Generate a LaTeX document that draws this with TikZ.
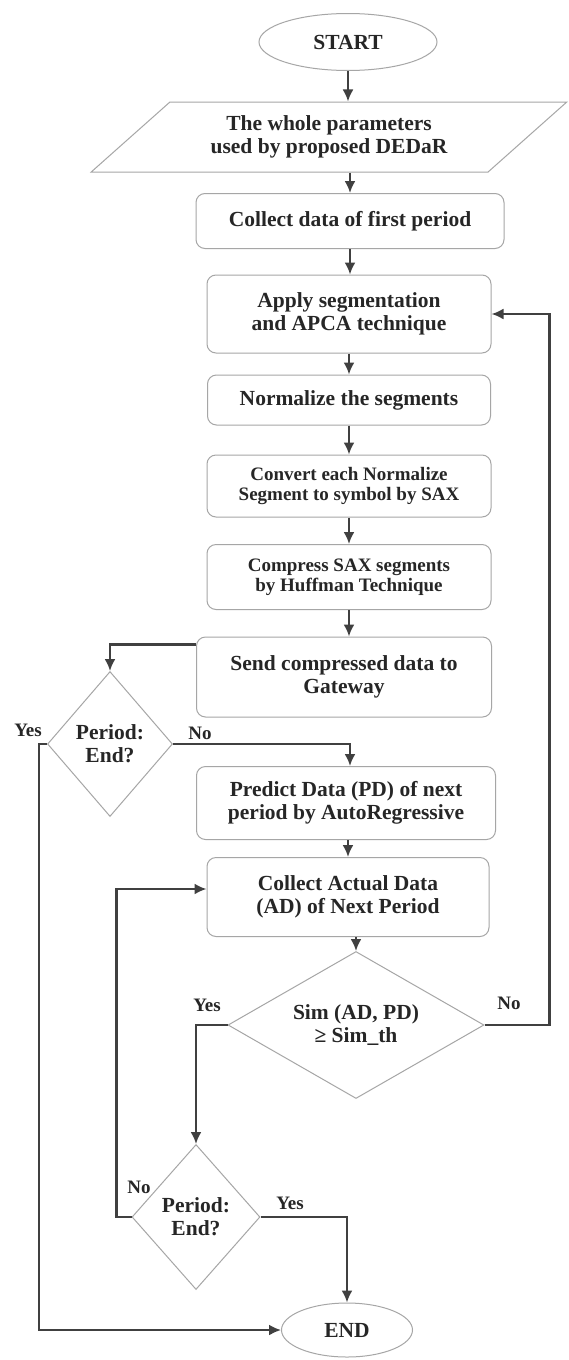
\documentclass[tikz,border=0pt]{standalone}
\usepackage{fontspec}
\setmainfont{Liberation Serif}
\usetikzlibrary{shapes.geometric,arrows.meta}
\tikzset{
  txt/.style={font=\fontsize{21.5}{23}\selectfont\bfseries, text=black!85, align=center},
  box/.style={txt, draw=black!35, line width=1pt, rounded corners=9pt, inner sep=0pt},
  smallbox/.style={box, font=\fontsize{19}{20}\selectfont\bfseries},
  term/.style={txt, draw=black!35, line width=1pt, ellipse, inner sep=0pt},
  decide/.style={txt, draw=black!35, line width=1pt, diamond, inner sep=0pt},
  flow/.style={draw=black!75, line width=2.2pt, -{Latex[length=12pt,width=11pt]}},
  lbl/.style={txt, font=\fontsize{19}{20}\selectfont\bfseries}
}
\begin{document}
\begin{tikzpicture}[x=1pt, y=-1pt]
    \useasboundingbox[fill=white] (0,0) rectangle (568,1360);
    % Main column
    \node[term, minimum width=178pt, minimum height=57pt] (start) at (348,42) {START};
    \node[txt, draw=black!35, line width=1pt, trapezium, trapezium left angle=36, trapezium right angle=144,
          trapezium stretches=true, minimum width=476pt, minimum height=70pt, inner sep=0pt] (params) at (329,137)
          {The whole parameters\\used by proposed DEDaR};
    \node[box, minimum width=308pt, minimum height=55pt] (collect) at (350,221) {Collect data of first period};
    \node[box, minimum width=284pt, minimum height=78pt] (segment) at (349,314) {Apply segmentation\\and APCA technique};
    \node[box, minimum width=283pt, minimum height=50pt] (normal) at (349,400) {Normalize the segments};
    \node[smallbox, minimum width=284pt, minimum height=62pt] (convert) at (349,486) {Convert each Normalize\\Segment to symbol by SAX};
    \node[smallbox, minimum width=284pt, minimum height=65pt] (compress) at (349,577) {Compress SAX segments\\by Huffman Technique};
    \node[box, minimum width=295pt, minimum height=80pt] (send) at (344,677) {Send compressed data to\\Gateway};
    \node[decide, minimum width=125pt, minimum height=145pt] (endA) at (110,744) {Period:\\End?};
    \node[box, minimum width=299pt, minimum height=73pt] (predict) at (346,803) {Predict Data (PD) of next\\period by AutoRegressive};
    \node[box, minimum width=282pt, minimum height=79pt] (actual) at (348,897) {Collect Actual Data\\(AD) of Next Period};
    \node[decide, aspect=1.75, minimum width=256pt, minimum height=147pt] (sim) at (356,1025) {Sim (AD, PD)\\≥ Sim\_th};
    \node[decide, minimum width=128pt, minimum height=145pt] (endB) at (196,1217) {Period:\\End?};
    \node[term, minimum width=131pt, minimum height=54pt] (stop) at (347,1330) {END};
    % Labels
    \node[lbl] (yesA) at (28,730) {Yes};
    \node[lbl] (noA) at (200,733) {No};
    \node[lbl] (yesB) at (207,1005) {Yes};
    \node[lbl] (noB) at (509,1003) {No};
    \node[lbl] (noC) at (139,1187) {No};
    \node[lbl] (yesC) at (290,1203) {Yes};
    % Arrows
    \draw[flow] (start.south) -- (start.south |- params.north);
    \draw[flow] (collect.north |- params.south) -- (collect.north);
    \draw[flow] (collect.south) -- (collect.south |- segment.north);
    \draw[flow] (segment.south) -- (segment.south |- normal.north);
    \draw[flow] (normal.south) -- (normal.south |- convert.north);
    \draw[flow] (convert.south) -- (convert.south |- compress.north);
    \draw[flow] (compress.south) -- (compress.south |- send.north);
    \draw[flow] ([yshift=-8pt]send.west |- send.north) -| (endA.north);
    \draw[flow] (endA.east) -| ([xshift=4pt]predict.north);
    \draw[flow] (predict.south -| actual.north) -- (actual.north);
    \draw[flow] (actual.south -| sim.north) -- (sim.north);
    \draw[flow] (sim.east) -- ++(65pt,0) |- (segment.east);
    \draw[flow] (sim.west) -| (endB.north);
    \draw[flow] (endB.west) -- ++(-15pt,0) |- ([yshift=8pt]actual.west);
    \draw[flow] (endB.east) -| (stop.north);
    \draw[flow] (endA.west) -- ++(-8pt,0) |- (stop.west);
\end{tikzpicture}
\end{document}
